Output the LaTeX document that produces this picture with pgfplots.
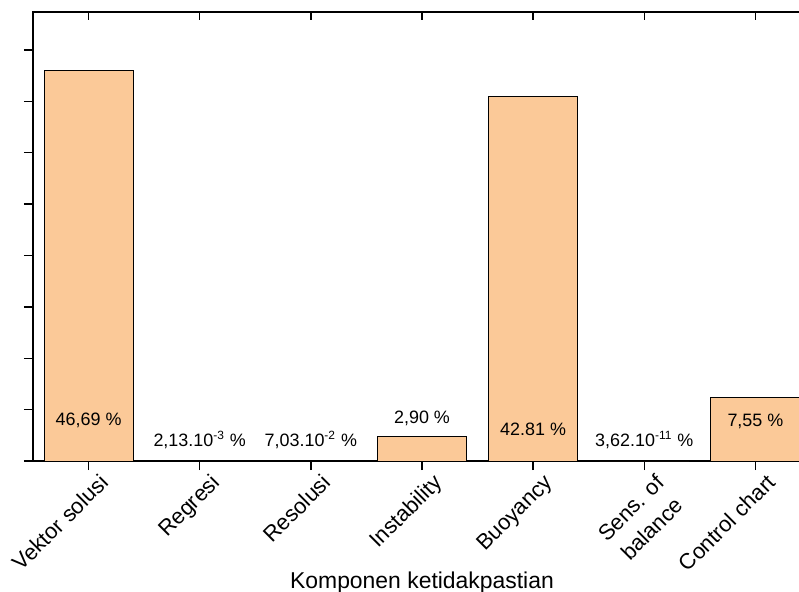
\documentclass[border=0pt]{standalone}
\usepackage{pgfplots}
\pgfplotsset{compat=1.18}
\usepackage{fontspec}
\setmainfont{Liberation Sans}
\usetikzlibrary{calc}
\definecolor{barfill}{RGB}{251,201,152}

\begin{document}
\begin{tikzpicture}
\begin{axis}[
  name=main,
  scale only axis,
  width=389bp, height=224.5bp,
  xmin=-0.5, xmax=6.5,
  ymin=0, ymax=53.62,
  axis line style={line width=0.7bp},
  xtick={0,...,6},
  xticklabels={Vektor solusi, Regresi, Resolusi, Instability, Buoyancy, {Sens. of\\balance}, Control chart},
  xtick pos=left, ytick pos=left,
  tick align=outside,
  major tick length=4.5bp,
  tick style={line width=0.7bp, black},
  ytick={0,6.14,12.27,18.41,24.54,30.68,36.81,42.95,49.08},
  yticklabels={},
  xticklabel style={rotate=45, anchor=north east, font=\fontsize{11}{15}\selectfont, align=center, xshift=6bp, yshift=-1bp},
  xlabel={Komponen ketidakpastian},
  xlabel style={at={(axis description cs:0.5,-0.283)}, anchor=base, font=\fontsize{11.5}{13}\selectfont},
  ybar, bar width=0.8,
]
\addplot[fill=barfill, draw=black, line width=0.5bp] coordinates {
  (0,46.69) (1,0.00213) (2,0.0703) (3,2.87) (4,43.47) (5,3.62e-11) (6,7.64)
};
\node[anchor=base, font=\fontsize{9}{10}\selectfont] at (axis cs:0,4.22) {46,69 \%};
\node[anchor=base, font=\fontsize{9}{10}\selectfont] at (axis cs:1,1.71) {2,13.10\textsuperscript{-3} \%};
\node[anchor=base, font=\fontsize{9}{10}\selectfont] at (axis cs:2,1.71) {7,03.10\textsuperscript{-2} \%};
\node[anchor=base, font=\fontsize{9}{10}\selectfont] at (axis cs:3,4.50) {2,90 \%};
\node[anchor=base, font=\fontsize{9}{10}\selectfont] at (axis cs:4,3.10) {42.81 \%};
\node[anchor=base, font=\fontsize{9}{10}\selectfont] at (axis cs:5,1.71) {3,62.10\textsuperscript{-11} \%};
\node[anchor=base, font=\fontsize{9}{10}\selectfont] at (axis cs:6,4.10) {7,55 \%};
\end{axis}
\begin{axis}[
  scale only axis,
  width=389bp, height=224.5bp,
  xmin=-0.5, xmax=6.5,
  ymin=0, ymax=53.62,
  axis line style={draw=none},
  xtick={0,...,6}, xticklabels={},
  xtick pos=right, ytick=\empty,
  tick align=inside,
  major tick length=4bp,
  tick style={line width=0.7bp, black},
]
\end{axis}
\pgfresetboundingbox
\path[use as bounding box] ($(main.south west)+(-16.5bp,-65.5bp)$) rectangle ($(main.north west)+(383bp,6bp)$);
\end{tikzpicture}
\end{document}
